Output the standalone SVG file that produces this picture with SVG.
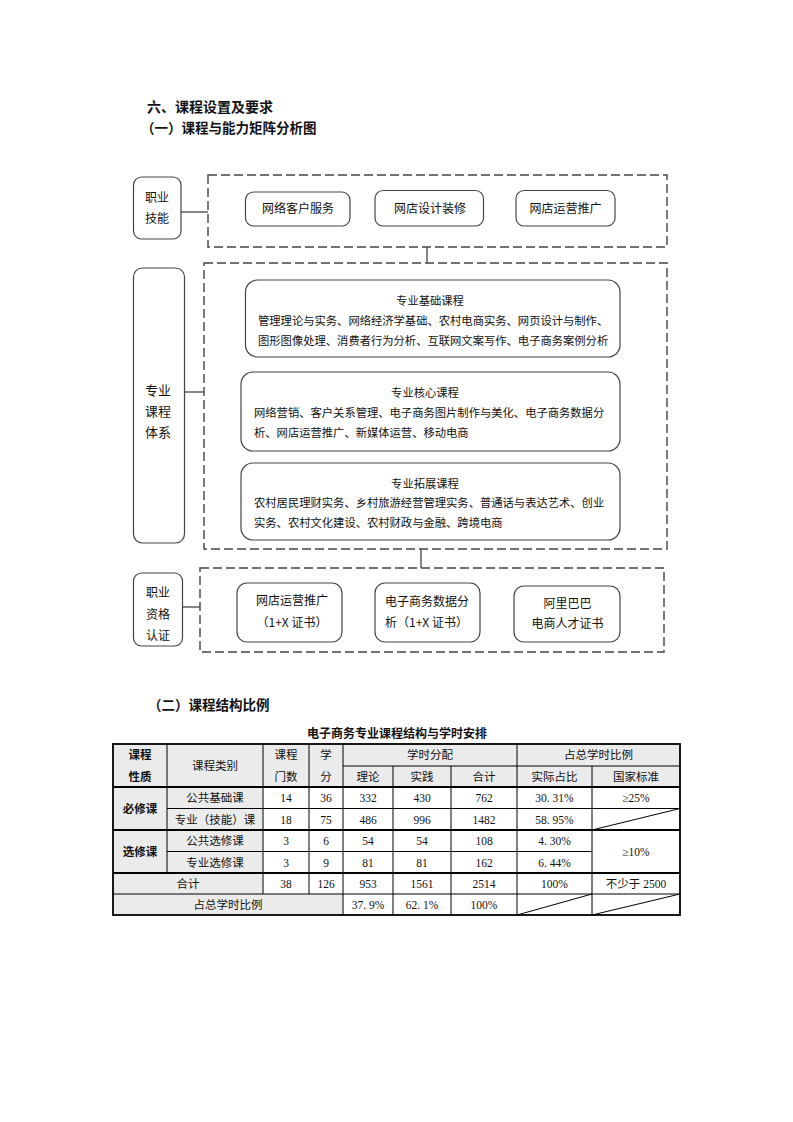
<svg xmlns="http://www.w3.org/2000/svg" width="793" height="1122" viewBox="0 0 793 1122">
<style>
text{font-family:"Noto Sans CJK SC","Liberation Sans",sans-serif;fill:#111}
.h1{font-size:14px;font-weight:bold}
.h2{font-size:13.5px;font-weight:bold}
.lab{font-size:12px;text-anchor:middle}
.lab13{font-size:13px;text-anchor:middle}
.bx{font-size:12px;text-anchor:middle}
.para{font-size:11.3px}
.hd{font-size:11.3px;text-anchor:middle}
.dash{fill:none;stroke:#444;stroke-width:1.4;stroke-dasharray:9 4}
.rb{fill:#fff;stroke:#444;stroke-width:1.2}
.con{stroke:#444;stroke-width:1.3;fill:none}
.t{font-family:"Liberation Serif","Noto Sans CJK SC",serif;font-size:11.5px;text-anchor:middle;fill:#111}
.tb{font-family:"Noto Sans CJK SC",sans-serif;font-weight:bold}
.g{fill:#ebebeb}
.ln{stroke:#000;stroke-width:1;fill:none}
.lt{stroke:#000;stroke-width:1.8;fill:none}
</style>

<text class="h1" x="147" y="112">六、课程设置及要求</text>
<text class="h2" x="141" y="133">（一）课程与能力矩阵分析图</text>

<g id="connectors">
<line class="con" x1="181" y1="212" x2="208" y2="212"/>
<line class="con" x1="427" y1="247" x2="427" y2="263"/>
<line class="con" x1="185" y1="392" x2="204" y2="392"/>
<line class="con" x1="421" y1="549" x2="421" y2="568"/>
<line class="con" x1="182.5" y1="607" x2="200" y2="607"/>
</g>

<g id="skills-group">
<rect class="dash" x="208" y="175" width="459" height="72"/>
</g>
<g id="skills-label">
<rect class="rb" x="133.5" y="177" width="47.5" height="62" rx="8"/>
<text class="lab" x="157" y="201.5">职业</text>
<text class="lab" x="157" y="222.5">技能</text>
</g>
<g id="skill-1">
<rect class="rb" x="245.5" y="192" width="104.5" height="34" rx="8"/>
<text class="bx" x="298" y="212.5">网络客户服务</text>
</g>
<g id="skill-2">
<rect class="rb" x="375" y="190.5" width="108.5" height="35.5" rx="8"/>
<text class="bx" x="430" y="212.5">网店设计装修</text>
</g>
<g id="skill-3">
<rect class="rb" x="516" y="190.5" width="99" height="35.5" rx="8"/>
<text class="bx" x="565.5" y="212.5">网店运营推广</text>
</g>

<g id="courses-group">
<rect class="dash" x="204" y="263" width="463" height="286"/>
</g>
<g id="courses-label">
<rect class="rb" x="133.5" y="268" width="51" height="275" rx="9"/>
<text class="lab13" x="158" y="394.5">专业</text>
<text class="lab13" x="158" y="415.5">课程</text>
<text class="lab13" x="158" y="436.5">体系</text>
</g>
<g id="course-basic">
<rect class="rb" x="245.5" y="280" width="374.5" height="77" rx="12"/>
<text class="hd" x="430" y="304.5">专业基础课程</text>
<text class="para" x="258" y="325">管理理论与实务、网络经济学基础、农村电商实务、网页设计与制作、</text>
<text class="para" x="258" y="345">图形图像处理、消费者行为分析、互联网文案写作、电子商务案例分析</text>
</g>
<g id="course-core">
<rect class="rb" x="241" y="372" width="379" height="79" rx="12"/>
<text class="hd" x="425" y="396.5">专业核心课程</text>
<text class="para" x="254" y="417">网络营销、客户关系管理、电子商务图片制作与美化、电子商务数据分</text>
<text class="para" x="254" y="436.5">析、网店运营推广、新媒体运营、移动电商</text>
</g>
<g id="course-ext">
<rect class="rb" x="241" y="463" width="379" height="77" rx="12"/>
<text class="hd" x="425" y="487.5">专业拓展课程</text>
<text class="para" x="254" y="507">农村居民理财实务、乡村旅游经营管理实务、普通话与表达艺术、创业</text>
<text class="para" x="254" y="526.5">实务、农村文化建设、农村财政与金融、跨境电商</text>
</g>

<g id="cert-group">
<rect class="dash" x="200" y="568" width="464" height="84"/>
</g>
<g id="cert-label">
<rect class="rb" x="133.5" y="573" width="49" height="73" rx="8"/>
<text class="lab" x="158" y="596.5">职业</text>
<text class="lab" x="158" y="618.5">资格</text>
<text class="lab" x="158" y="639.5">认证</text>
</g>
<g id="cert-1">
<rect class="rb" x="237" y="583" width="105" height="59" rx="10"/>
<text class="bx" x="292" y="604.5">网店运营推广</text>
<text class="bx" x="292" y="626.5">（1+X 证书）</text>
</g>
<g id="cert-2">
<rect class="rb" x="375" y="583" width="105" height="59" rx="10"/>
<text class="bx" x="385" y="606" style="text-anchor:start">电子商务数据分</text>
<text class="bx" x="385" y="626.5" style="text-anchor:start">析（1+X 证书）</text>
</g>
<g id="cert-3">
<rect class="rb" x="514" y="586" width="106" height="56" rx="10"/>
<text class="bx" x="567.5" y="608">阿里巴巴</text>
<text class="bx" x="567.5" y="627.5">电商人才证书</text>
</g>

<text class="h2" x="148" y="710">（二）课程结构比例</text>
<text x="397" y="737.5" style="font-size:12px;font-weight:bold;text-anchor:middle">电子商务专业课程结构与学时安排</text>

<g id="table">
<rect class="g" x="113" y="744" width="567" height="43"/>
<rect class="g" x="113" y="787" width="150" height="107"/>
<rect class="g" x="113" y="894" width="230" height="21"/>
<!-- horizontal lines -->
<line class="ln" x1="343" y1="766" x2="680" y2="766"/>
<line class="lt" x1="113" y1="787" x2="680" y2="787"/>
<line class="ln" x1="167" y1="808.5" x2="592" y2="808.5"/>
<line class="ln" x1="592" y1="808.5" x2="680" y2="808.5"/>
<line class="lt" x1="113" y1="830" x2="680" y2="830"/>
<line class="ln" x1="167" y1="851.5" x2="592" y2="851.5"/>
<line class="lt" x1="113" y1="873" x2="680" y2="873"/>
<line class="ln" x1="113" y1="894" x2="680" y2="894"/>
<!-- vertical lines -->
<line class="ln" x1="167" y1="744" x2="167" y2="873"/>
<line class="ln" x1="263" y1="744" x2="263" y2="894"/>
<line class="ln" x1="309" y1="744" x2="309" y2="894"/>
<line class="ln" x1="343" y1="744" x2="343" y2="915"/>
<line class="ln" x1="393" y1="766" x2="393" y2="915"/>
<line class="ln" x1="451" y1="766" x2="451" y2="915"/>
<line class="ln" x1="517" y1="744" x2="517" y2="915"/>
<line class="ln" x1="592" y1="766" x2="592" y2="915"/>
<!-- diagonals -->
<line class="ln" x1="592" y1="830" x2="680" y2="808.5"/>
<line class="ln" x1="517" y1="915" x2="592" y2="894"/>
<line class="ln" x1="592" y1="915" x2="680" y2="894"/>
<rect class="lt" x="113" y="744" width="567" height="171"/>

<!-- header -->
<text class="t tb" x="140" y="759">课程</text>
<text class="t tb" x="140" y="780.5">性质</text>
<text class="t" x="215" y="770">课程类别</text>
<text class="t" x="286" y="759">课程</text>
<text class="t" x="286" y="780.5">门数</text>
<text class="t" x="326" y="759">学</text>
<text class="t" x="326" y="780.5">分</text>
<text class="t" x="430" y="759">学时分配</text>
<text class="t" x="368" y="780.5">理论</text>
<text class="t" x="422" y="780.5">实践</text>
<text class="t" x="484" y="780.5">合计</text>
<text class="t" x="598.5" y="759">占总学时比例</text>
<text class="t" x="554.5" y="780.5">实际占比</text>
<text class="t" x="636" y="780.5">国家标准</text>

<text class="t tb" x="140" y="812.5">必修课</text>
<text class="t tb" x="140" y="855.5">选修课</text>

<text class="t" x="215" y="802">公共基础课</text>
<text class="t" x="286" y="802">14</text>
<text class="t" x="326" y="802">36</text>
<text class="t" x="368" y="802">332</text>
<text class="t" x="422" y="802">430</text>
<text class="t" x="484" y="802">762</text>
<text class="t" x="554.5" y="802">30. 31%</text>
<text class="t" x="636" y="802">≥25%</text>

<text class="t" x="215" y="823.5">专业（技能）课</text>
<text class="t" x="286" y="823.5">18</text>
<text class="t" x="326" y="823.5">75</text>
<text class="t" x="368" y="823.5">486</text>
<text class="t" x="422" y="823.5">996</text>
<text class="t" x="484" y="823.5">1482</text>
<text class="t" x="554.5" y="823.5">58. 95%</text>

<text class="t" x="215" y="845">公共选修课</text>
<text class="t" x="286" y="845">3</text>
<text class="t" x="326" y="845">6</text>
<text class="t" x="368" y="845">54</text>
<text class="t" x="422" y="845">54</text>
<text class="t" x="484" y="845">108</text>
<text class="t" x="554.5" y="845">4. 30%</text>
<text class="t" x="636" y="855.5">≥10%</text>

<text class="t" x="215" y="866.5">专业选修课</text>
<text class="t" x="286" y="866.5">3</text>
<text class="t" x="326" y="866.5">9</text>
<text class="t" x="368" y="866.5">81</text>
<text class="t" x="422" y="866.5">81</text>
<text class="t" x="484" y="866.5">162</text>
<text class="t" x="554.5" y="866.5">6. 44%</text>

<text class="t" x="188" y="887.5">合计</text>
<text class="t" x="286" y="887.5">38</text>
<text class="t" x="326" y="887.5">126</text>
<text class="t" x="368" y="887.5">953</text>
<text class="t" x="422" y="887.5">1561</text>
<text class="t" x="484" y="887.5">2514</text>
<text class="t" x="554.5" y="887.5">100%</text>
<text class="t" x="636" y="887.5">不少于 2500</text>

<text class="t" x="228" y="908.5">占总学时比例</text>
<text class="t" x="368" y="908.5">37. 9%</text>
<text class="t" x="422" y="908.5">62. 1%</text>
<text class="t" x="484" y="908.5">100%</text>
</g>
</svg>
